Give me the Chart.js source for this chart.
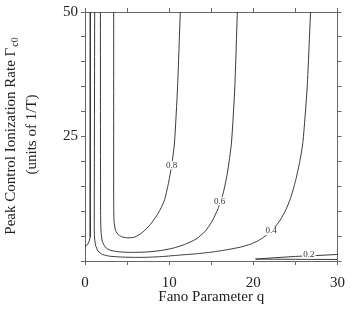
<!DOCTYPE html>
<html>
<head>
<meta charset="utf-8">
<script src="https://cdn.jsdelivr.net/npm/chart.js@4.4.1/dist/chart.umd.min.js"></script>
<style>html,body{margin:0;padding:0;background:#fff}</style>
</head>
<body>
<canvas id="c" width="354" height="322"></canvas>
<script>
// contour lines: q (Fano parameter) and Gamma_c0
const c08q = [3.41, 3.41, 3.45, 3.64, 4.0, 4.5, 5.1, 5.9, 6.8, 7.8, 8.7, 9.4, 9.9, 10.3, 10.63, 11.0, 11.32];
const c08g = [50, 12, 8, 6.1, 5.2, 4.8, 4.65, 4.8, 5.7, 7.4, 9.6, 12, 15.5, 19.2, 23.7, 35, 50];

const c06q = [1.83, 1.85, 1.9, 2.05, 2.4, 3.0, 4.0, 5.0, 6.3, 7.4, 9.0, 10.5, 11.8, 13.2, 14.3, 15.1, 15.8, 16.4, 16.9, 17.4, 17.8, 18.1];
const c06g = [50, 10, 6, 4.0, 2.8, 2.15, 1.85, 1.75, 1.75, 1.82, 2.1, 2.6, 3.3, 4.4, 6.0, 8.0, 10.5, 13.5, 17.5, 23.7, 35, 50];

const c04q = [1.15, 1.1, 1.12, 1.25, 1.55, 2.1, 3.0, 4.5, 6.0, 7.4, 9.2, 11.2, 13.2, 15.1, 17.0, 18.5, 19.7, 20.6, 21.4, 22.1, 22.8, 23.4, 24.0, 24.5, 25.0, 25.5, 25.9, 26.4, 26.8];
const c04g = [50, 8, 5, 3.2, 2.0, 1.3, 0.95, 0.78, 0.73, 0.75, 0.9, 1.18, 1.45, 1.8, 2.3, 2.8, 3.4, 4.1, 5.0, 6.0, 7.3, 8.8, 10.8, 13, 16, 19.8, 24, 35, 50];

const c02aq = [0.65, 0.65, 0.6, 0.48, 0.3, 0];
const c02ag = [50, 6, 4.8, 3.9, 3.3, 2.94];
const c02bq = [30, 27.5, 25, 22.5, 20.25, 22.5, 25, 30];
const c02bg = [1.31, 1.1, 0.92, 0.65, 0.38, 0.36, 0.34, 0.3];

const labelText = ['0.8', '0.6', '0.4', '0.2'];
const labelQ = [10.29, 16.0, 22.1, 26.6];
const labelG = [19.2, 12, 6.0, 1.32];

const xTickLabels = [0, 10, 20, 30];
const yTickLabels = [25, 50];

const serif = '"Liberation Serif", "DejaVu Serif", serif';
const lineColor = '#3a3a3a';
const axisColor = '#666';

const pts = (qs, gs) => qs.map((q, i) => ({ x: q, y: gs[i] }));

const line = (qs, gs, tension) => ({
  data: pts(qs, gs),
  showLine: true,
  borderColor: lineColor,
  borderWidth: 1,
  pointRadius: 0,
  tension: tension
});

// contour labels with white box behind
const contourLabels = {
  id: 'contourLabels',
  afterDatasetsDraw(chart) {
    const { ctx, scales: { x, y } } = chart;
    ctx.save();
    ctx.font = '9px ' + serif;
    ctx.textAlign = 'center';
    ctx.textBaseline = 'middle';
    labelText.forEach((t, i) => {
      const px = x.getPixelForValue(labelQ[i]);
      const py = y.getPixelForValue(labelG[i]);
      const w = ctx.measureText(t).width;
      ctx.fillStyle = '#fff';
      ctx.fillRect(px - w / 2 - 1, py - 4, w + 2, 8);
      ctx.fillStyle = '#333';
      ctx.fillText(t, px, py);
    });
    ctx.restore();
  }
};

// axis titles (y title has a subscript)
const titles = {
  id: 'titles',
  afterDraw(chart) {
    const { ctx, chartArea } = chart;
    ctx.save();
    ctx.fillStyle = '#222';
    ctx.textBaseline = 'middle';
    ctx.textAlign = 'center';
    ctx.font = '15px ' + serif;
    ctx.fillText('Fano Parameter q', (chartArea.left + chartArea.right) / 2, 297);

    const cy = (chartArea.top + chartArea.bottom) / 2;
    const main = 'Peak Control Ionization Rate \u0393';
    const sub = 'c0';
    ctx.translate(11, cy);
    ctx.rotate(-Math.PI / 2);
    ctx.textAlign = 'left';
    ctx.font = '15px ' + serif;
    const wm = ctx.measureText(main).width;
    ctx.font = '10px ' + serif;
    const ws = ctx.measureText(sub).width;
    const x0 = -(wm + ws) / 2;
    ctx.font = '15px ' + serif;
    ctx.fillText(main, x0, 0);
    ctx.font = '10px ' + serif;
    ctx.fillText(sub, x0 + wm + 1, 4);
    ctx.font = '15px ' + serif;
    ctx.textAlign = 'center';
    ctx.fillText('(units of 1/T)', 2, 21);
    ctx.restore();
  }
};

const gridOpts = { drawOnChartArea: false, tickLength: 4, color: axisColor };
const borderOpts = { display: true, color: axisColor, width: 1 };

new Chart(document.getElementById('c'), {
  type: 'scatter',
  data: {
    datasets: [
      line(c08q, c08g, 0.2),
      line(c06q, c06g, 0.2),
      line(c04q, c04g, 0.2),
      line(c02aq, c02ag, 0),
      line(c02bq, c02bg, 0)
    ]
  },
  options: {
    responsive: false,
    animation: false,
    layout: { padding: 0 },
    plugins: { legend: { display: false }, tooltip: { enabled: false } },
    scales: {
      x: {
        type: 'linear', position: 'bottom', min: 0, max: 30,
        grid: gridOpts, border: borderOpts,
        ticks: {
          stepSize: 5, padding: 9, color: '#222', font: { family: serif, size: 15 },
          maxRotation: 0, autoSkip: false,
          callback: v => xTickLabels.includes(v) ? String(v) : ''
        },
        afterFit: s => { s.height = 61; }
      },
      x2: {
        type: 'linear', position: 'top', min: 0, max: 30,
        grid: gridOpts, border: borderOpts,
        ticks: { stepSize: 5, callback: () => '' },
        afterFit: s => { s.height = 6; }
      },
      y: {
        type: 'linear', position: 'left', min: 0, max: 50,
        grid: gridOpts, border: borderOpts,
        ticks: {
          stepSize: 5, padding: 3, color: '#222', font: { family: serif, size: 15 },
          autoSkip: false,
          callback: v => yTickLabels.includes(v) ? String(v) : ''
        },
        afterFit: s => { s.width = 85; }
      },
      y2: {
        type: 'linear', position: 'right', min: 0, max: 50,
        grid: gridOpts, border: borderOpts,
        ticks: { stepSize: 5, callback: () => '' },
        afterFit: s => { s.width = 7; }
      }
    }
  },
  plugins: [contourLabels, titles]
});
</script>
</body>
</html>
